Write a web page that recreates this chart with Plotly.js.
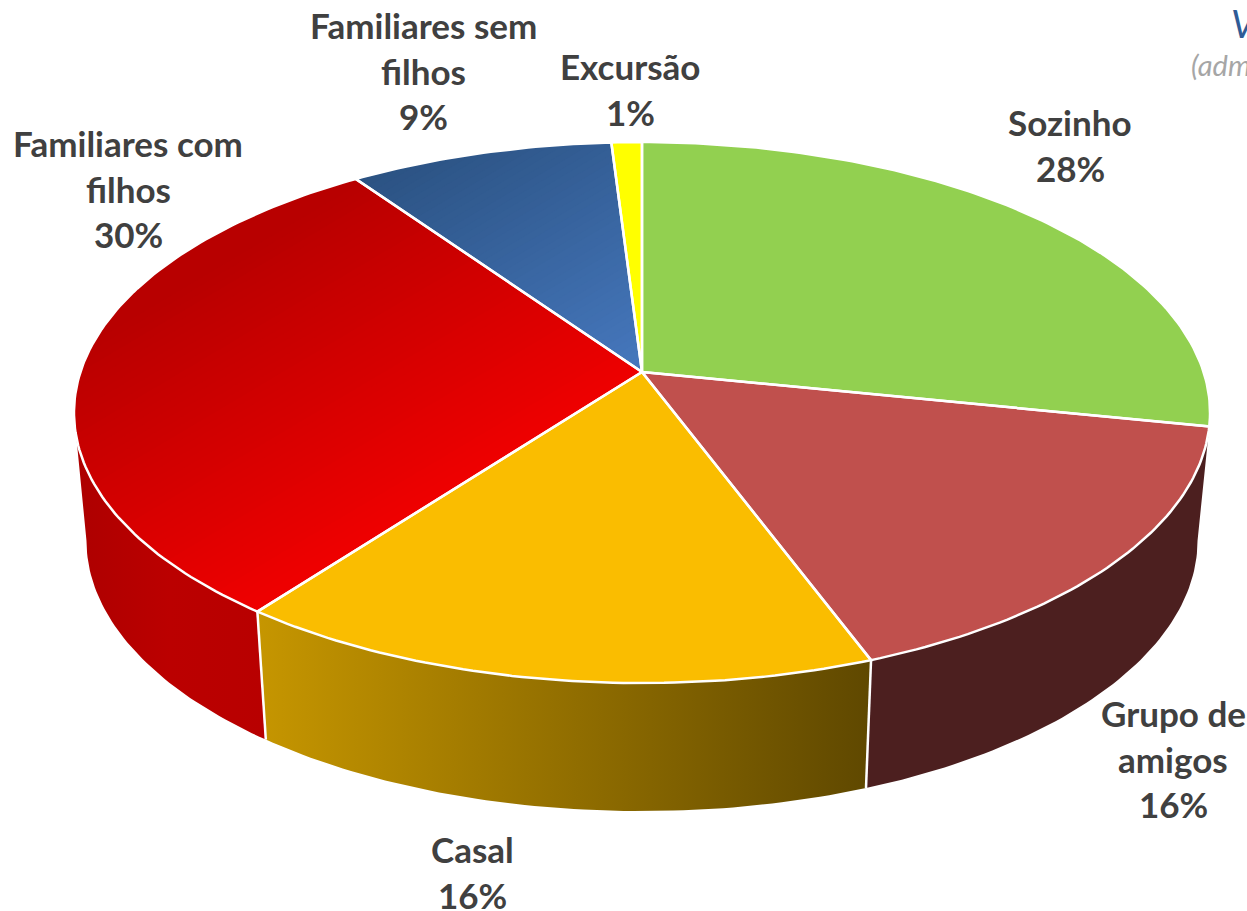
<!DOCTYPE html>
<html><head><meta charset="utf-8">
<script src="https://cdn.plot.ly/plotly-3.0.1.min.js"></script>
<style>html,body{margin:0;padding:0;background:#fff;overflow:hidden}</style>
</head><body><div id="chart" style="width:1247px;height:911px"></div>
<script>
// ---- data ----
const categories = ["Sozinho", "Grupo de<br>amigos", "Casal", "Familiares com<br>filhos", "Familiares sem<br>filhos", "Excursão"];
const shares = [28.2, 16.1, 16.0, 30.0, 8.7, 1.0];
const topColors = ["#92d050", "#c0504d", "#fabd00", "#cc0000", "#3a6aa5", "#ffff00"];
const sideColors = ["#92d050", "#4c1f1f", "#c69600", "#b90000", "#2c5585", "#cccc00"];

// ---- geometry of the tilted disc ----
const CX = 642, CY = 372, RX = 561.6, RY = 264.4, K = 0.15, DEPTH = 128, SHRINK = 0.978;
const F_R = 0.274, F_L = 0.726;
function topPt(f) {
  const t = 2 * Math.PI * f, X = Math.sin(t), Y = Math.cos(t), d = 1 + K * Y;
  return [CX + RX * X / d, CY - RY * Y / d];
}
function lowPt(f) {
  const p = topPt(f);
  return [CX + SHRINK * (p[0] - CX), p[1] + DEPTH];
}
function arc(fn, a, b) {
  const n = Math.max(2, Math.ceil(Math.abs(b - a) * 400)), out = [];
  for (let i = 0; i <= n; i++) out.push(fn(a + (b - a) * i / n));
  return out;
}
const total = shares.reduce((s, v) => s + v, 0);
let acc = 0;
const spans = shares.map(v => { const s = acc / total; acc += v; return [s, acc / total]; });

const traces = [];
function poly(pts, extra) {
  traces.push(Object.assign({
    type: "scatter", mode: "lines", hoverinfo: "skip", showlegend: false,
    x: pts.map(p => p[0]), y: pts.map(p => p[1])
  }, extra));
}

// ---- side walls ----
let firstSide = true;
const edges = [];
spans.forEach(([s, e], i) => {
  const a = Math.max(s, F_R), b = Math.min(e, F_L);
  if (b - a < 0.01) return;
  const lowStart = firstSide ? F_R : a; firstSide = false;
  const pts = arc(topPt, a, b).concat(arc(lowPt, b, lowStart));
  pts.push(pts[0]);
  const extra = { fill: "toself", line: { width: 0, color: sideColors[i] }, fillcolor: sideColors[i] };
  if (i === 2) extra.fillgradient = { type: "horizontal", colorscale: [[0, "#c69600"], [1, "#5f4800"]] };
  if (i === 3) extra.fillgradient = { type: "horizontal", colorscale: [[0, "#ad0000"], [0.5, "#bb0000"], [1, "#b80000"]] };
  poly(pts, extra);
  if (e < F_L) edges.push(e);
});
edges.forEach(f => poly([topPt(f), lowPt(f)], { line: { color: "#ffffff", width: 2.5 } }));

// ---- top faces ----
const NX = 0.51, NY = 0.86;
function clip(pts, t0) {
  const out = [], val = p => NX * p[0] + NY * p[1] - t0;
  for (let i = 0; i < pts.length; i++) {
    const p = pts[i], q = pts[(i + 1) % pts.length], vp = val(p), vq = val(q);
    if (vp >= 0) out.push(p);
    if ((vp >= 0) !== (vq >= 0)) {
      const u = vp / (vp - vq);
      out.push([p[0] + (q[0] - p[0]) * u, p[1] + (q[1] - p[1]) * u]);
    }
  }
  return out;
}
function lerpColor(c0, c1, u) {
  return "rgb(" + c0.map((c, i) => Math.round(c + (c1[i] - c) * u)).join(",") + ")";
}
const ramps = { 3: [[184, 0, 0], [238, 0, 0]], 4: [[43, 82, 130], [70, 120, 190]] };
const T0 = 335, T1 = 645, STEPS = 48;
spans.forEach(([s, e], i) => {
  const wedge = [[CX, CY]].concat(arc(topPt, s, e));
  const closed = wedge.concat([wedge[0]]);
  const ramp = ramps[i];
  if (ramp) {
    poly(closed, { fill: "toself", line: { width: 0, color: lerpColor(ramp[0], ramp[0], 0) }, fillcolor: lerpColor(ramp[0], ramp[0], 0) });
    for (let k = 1; k <= STEPS; k++) {
      const u = k / STEPS, part = clip(wedge, T0 + (T1 - T0) * u);
      if (part.length < 3) continue;
      const c = lerpColor(ramp[0], ramp[1], u);
      poly(part.concat([part[0]]), { fill: "toself", line: { width: 0, color: c }, fillcolor: c });
    }
  } else {
    poly(closed, { fill: "toself", line: { width: 0, color: topColors[i] }, fillcolor: topColors[i] });
  }
});
spans.forEach(([s, e]) => {
  const wedge = [[CX, CY]].concat(arc(topPt, s, e));
  poly(wedge.concat([wedge[0]]), { line: { color: "#ffffff", width: 2.5 } });
});

// ---- labels ----
const labelAnchors = [[1070, 122], [1173, 713], [472, 849], [128, 143], [423, 25], [630, 66]];
const LINE = 45.5;
const annotations = [];
categories.forEach((c, i) => {
  const lines = c.split("<br>").concat([Math.round(shares[i]) + "%"]);
  lines.forEach((ln, j) => annotations.push({
    x: labelAnchors[i][0], y: labelAnchors[i][1] + j * LINE, xref: "x", yref: "y",
    text: ln, showarrow: false, xanchor: "center", yanchor: "middle",
    font: { family: "Lato, Carlito, sans-serif", size: 35, color: "#404040", weight: 700 }
  }));
});
annotations.push({ x: 1229, y: 23, xref: "x", yref: "y", text: "<i>V</i>", showarrow: false, xanchor: "left", yanchor: "middle",
  font: { family: "Lato, sans-serif", size: 38, color: "#2f5b96" } });
annotations.push({ x: 1189, y: 64, xref: "x", yref: "y", text: "<i>(adm</i>", showarrow: false, xanchor: "left", yanchor: "middle",
  font: { family: "Lato, sans-serif", size: 29, color: "#a6a6a6" } });

Plotly.newPlot("chart", traces, {
  width: 1247, height: 911, autosize: false, showlegend: false,
  margin: { l: 0, r: 0, t: 0, b: 0, pad: 0 },
  paper_bgcolor: "#ffffff", plot_bgcolor: "#ffffff",
  xaxis: { range: [0, 1247], visible: false, fixedrange: true },
  yaxis: { range: [911, 0], visible: false, fixedrange: true },
  annotations
}, { displayModeBar: false, staticPlot: true });
</script></body></html>
